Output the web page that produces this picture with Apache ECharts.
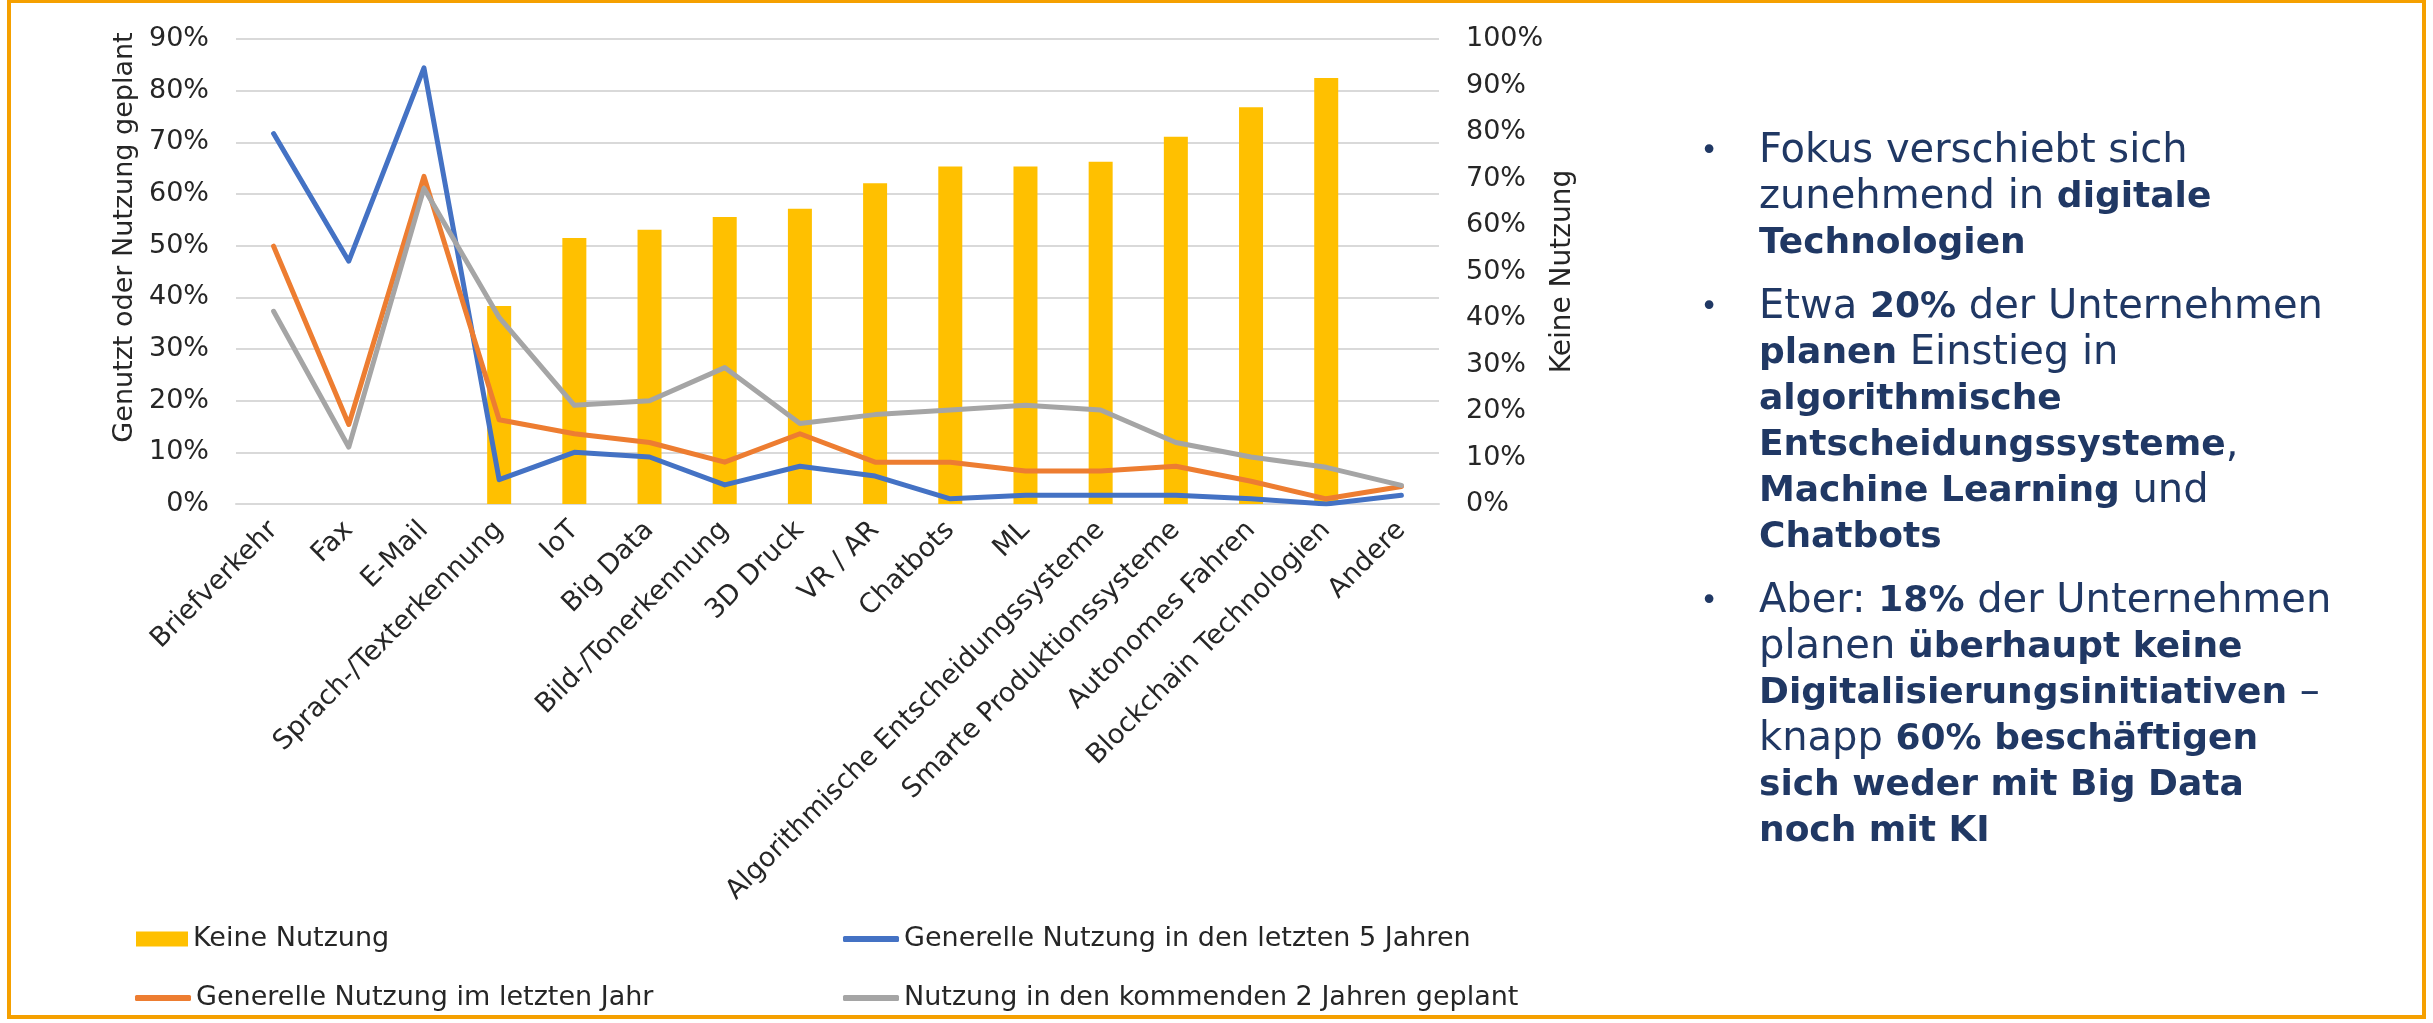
<!DOCTYPE html>
<html>
<head>
<meta charset="utf-8">
<script src="https://cdn.jsdelivr.net/npm/echarts@6/dist/echarts.min.js"></script>
<style>
html,body{margin:0;padding:0;background:#fff;}
#chart{width:2433px;height:1023px;}
</style>
</head>
<body>
<div id="chart"></div>
<script>
const categories = ['Briefverkehr','Fax','E-Mail','Sprach-/Texterkennung','IoT','Big Data','Bild-/Tonerkennung','3D Druck','VR / AR','Chatbots','ML','Algorithmische Entscheidungssysteme','Smarte Produktionssysteme','Autonomes Fahren','Blockchain Technologien','Andere'];
const keineNutzung = [null,null,null,42.6,57.2,59.0,61.7,63.5,69.0,72.6,72.6,73.6,79.0,85.3,91.6,null];
const nutzung5Jahre = [71.7,47.0,84.4,4.7,10.0,9.1,3.7,7.3,5.4,1.0,1.7,1.7,1.7,1.0,0.0,1.7];
const nutzungLetztesJahr = [49.9,15.4,63.4,16.3,13.6,11.9,8.1,13.6,8.1,8.1,6.4,6.4,7.3,4.4,1.0,3.4];
const nutzungGeplant = [37.3,11.0,61.1,36.1,19.1,20.0,26.4,15.6,17.3,18.2,19.1,18.2,11.9,9.1,7.1,3.6];
const seriesNames = ['Keine Nutzung','Generelle Nutzung in den letzten 5 Jahren','Generelle Nutzung im letzten Jahr','Nutzung in den kommenden 2 Jahren geplant'];
const leftAxisTitle = 'Genutzt oder Nutzung geplant';
const rightAxisTitle = 'Keine Nutzung';
const paragraphs = [
  'Fokus verschiebt sich\nzunehmend in {b|digitale}\n{b|Technologien}',
  'Etwa {b|20%} der Unternehmen\n{b|planen} Einstieg in\n{b|algorithmische}\n{b|Entscheidungssysteme},\n{b|Machine Learning} und\n{b|Chatbots}',
  'Aber: {b|18%} der Unternehmen\nplanen {b|überhaupt keine}\n{b|Digitalisierungsinitiativen} –\nknapp {b|60% beschäftigen}\n{b|sich weder mit Big Data}\n{b|noch mit KI}'
];

const FONT = 'DejaVu Sans';
const TXT = '#262626';
const NAVY = '#203864';
const chart = echarts.init(document.getElementById('chart'), null, {renderer:'canvas'});

const paraTops = [129, 285, 579];
const graphics = [
  {type:'rect', shape:{x:9, y:1, width:2415, height:1016}, style:{fill:'none', stroke:'#F5A000', lineWidth:4}, z:100}
];
paragraphs.forEach((p, i) => {
  graphics.push({type:'text', x:1709, y:paraTops[i] + 23, style:{text:'•', font:'30px "' + FONT + '"', fill:NAVY, textAlign:'center', textVerticalAlign:'middle'}});
  graphics.push({type:'text', x:1759, y:paraTops[i], style:{
    text:p, fill:NAVY, fontFamily:FONT, fontSize:40, lineHeight:46, textVerticalAlign:'top',
    rich:{b:{fontFamily:FONT, fontSize:36, fontWeight:'bold', fill:NAVY, color:NAVY, lineHeight:46}}
  }});
});

const legendBase = {orient:'horizontal', itemGap:0, textStyle:{fontFamily:FONT, fontSize:27, color:TXT, lineHeight:30}};

chart.setOption({
  animation:false,
  backgroundColor:'#ffffff',
  textStyle:{fontFamily:FONT},
  grid:{left:236, right:994, top:39, bottom:519, containLabel:false},
  legend:[
    Object.assign({}, legendBase, {data:[seriesNames[0]], left:131, top:919, icon:'rect', itemWidth:52, itemHeight:15}),
    Object.assign({}, legendBase, {data:[seriesNames[1]], left:838, top:919, icon:'roundRect', itemWidth:56, itemHeight:6}),
    Object.assign({}, legendBase, {data:[seriesNames[2]], left:130, top:978, icon:'roundRect', itemWidth:56, itemHeight:6}),
    Object.assign({}, legendBase, {data:[seriesNames[3]], left:838, top:978, icon:'roundRect', itemWidth:56, itemHeight:6})
  ],
  xAxis:{
    type:'category', data:categories, boundaryGap:true,
    axisLine:{show:true, lineStyle:{color:'#D9D9D9', width:2}},
    axisTick:{show:false},
    axisLabel:{interval:0, rotate:45, margin:22, fontFamily:FONT, fontSize:27, color:TXT}
  },
  yAxis:[
    {type:'value', min:0, max:90, interval:10, position:'left',
     name:leftAxisTitle, nameLocation:'middle', nameGap:98,
     nameTextStyle:{fontFamily:FONT, fontSize:27, color:TXT, padding:[0,0,0,68]},
     axisLabel:{formatter:'{value}%', margin:27, fontFamily:FONT, fontSize:27, color:TXT},
     axisLine:{show:false}, axisTick:{show:false},
     splitLine:{show:true, lineStyle:{color:'#D9D9D9', width:2}}},
    {type:'value', min:0, max:100, interval:10, position:'right',
     name:rightAxisTitle, nameLocation:'middle', nameGap:110,
     nameTextStyle:{fontFamily:FONT, fontSize:28, color:TXT},
     axisLabel:{formatter:'{value}%', margin:27, fontFamily:FONT, fontSize:27, color:TXT},
     axisLine:{show:false}, axisTick:{show:false},
     splitLine:{show:false}}
  ],
  series:[
    {name:seriesNames[0], type:'bar', yAxisIndex:1, data:keineNutzung, barWidth:24, itemStyle:{color:'#FFC000'}},
    {name:seriesNames[1], type:'line', yAxisIndex:0, data:nutzung5Jahre, symbol:'none', lineStyle:{color:'#4472C4', width:5, cap:'round', join:'round'}, itemStyle:{color:'#4472C4'}},
    {name:seriesNames[2], type:'line', yAxisIndex:0, data:nutzungLetztesJahr, symbol:'none', lineStyle:{color:'#ED7D31', width:5, cap:'round', join:'round'}, itemStyle:{color:'#ED7D31'}},
    {name:seriesNames[3], type:'line', yAxisIndex:0, data:nutzungGeplant, symbol:'none', lineStyle:{color:'#A5A5A5', width:5, cap:'round', join:'round'}, itemStyle:{color:'#A5A5A5'}}
  ],
  graphic:graphics
});
</script>
</body>
</html>
